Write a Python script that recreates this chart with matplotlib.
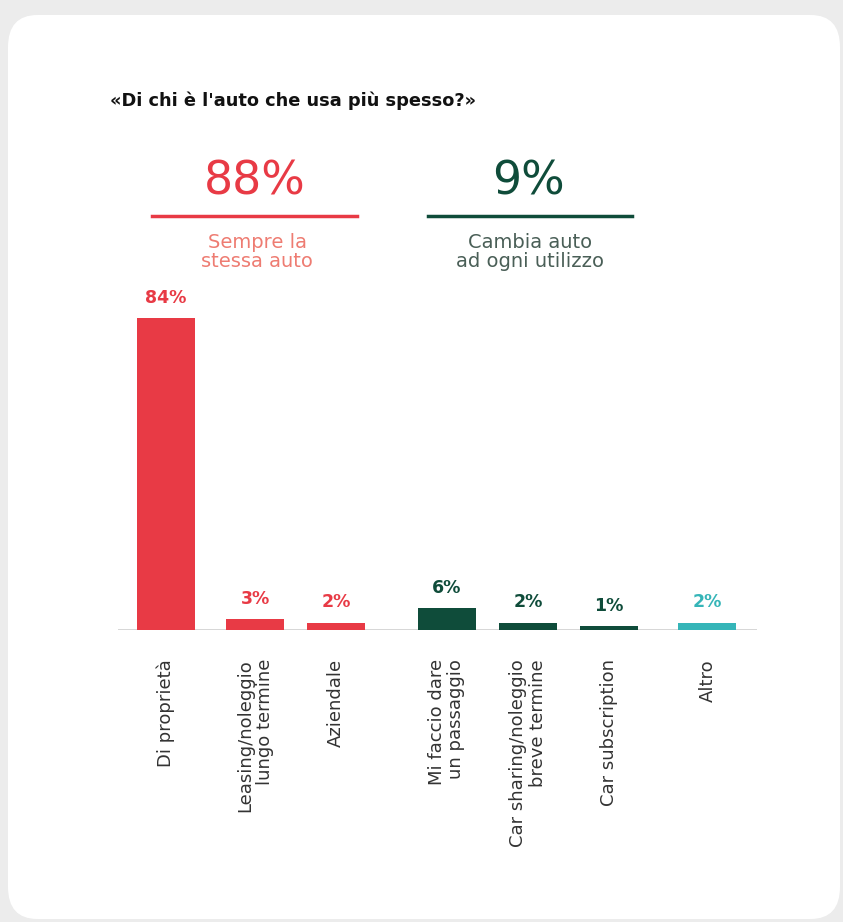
import matplotlib.pyplot as plt
from matplotlib.patches import FancyBboxPatch
from matplotlib.lines import Line2D

# ---------- data ----------
categories = ["Di proprietà", "Leasing/noleggio\nlungo termine", "Aziendale",
              "Mi faccio dare\nun passaggio", "Car sharing/noleggio\nbreve termine",
              "Car subscription", "Altro"]
values = [84, 3, 2, 6, 2, 1, 2]
groups = ["same", "same", "same", "change", "change", "change", "other"]

header_values = [88, 9]
header_labels = ["Sempre la\nstessa auto", "Cambia auto\nad ogni utilizzo"]
title = "«Di chi è l'auto che usa più spesso?»"

# ---------- layout / style ----------
W, H = 843, 922
RED = "#E83A45"
GREEN = "#0F4C3A"
TEAL = "#35B5B8"
colors = {"same": RED, "change": GREEN, "other": TEAL}
x_pos = [0, 1.05, 2.0, 3.3, 4.26, 5.21, 6.37]   # slot positions (1 unit ~ 85 px)

plt.rcParams["font.family"] = ["DejaVu Sans"]

fig = plt.figure(figsize=(W / 100, H / 100), dpi=100)
fig.patch.set_facecolor("#ececec")


def px(x, y):
    return x / W, 1 - y / H


# card with faint shadow
card_l, card_t, card_r, card_b = 8, 15, 840, 919
for off, col in [(4, "#e2e2e2"), (2, "#dcdcdc")]:
    fig.patches.append(FancyBboxPatch(
        (card_l - off / 2, 1 - (card_b + off / 2) / H), (card_r - card_l + off) / W,
        (card_b - card_t + off) / H, boxstyle="round,pad=0,rounding_size=0.035",
        transform=fig.transFigure, facecolor=col, edgecolor="none", zorder=0))
fig.patches.append(FancyBboxPatch(
    (card_l / W, 1 - card_b / H), (card_r - card_l) / W, (card_b - card_t) / H,
    boxstyle="round,pad=0,rounding_size=0.035", transform=fig.transFigure,
    facecolor="white", edgecolor="none", zorder=1))

# title
fig.text(*px(110, 101), title, fontsize=12.8, fontweight="bold", color="#111111",
         ha="left", va="center")

# headers
hdr_cx = [255, 528]
hdr_col = [RED, GREEN]
sub_col = ["#EE7C72", "#4A5F57"]
line_x = [(152, 357), (428, 632)]
for i in range(2):
    fig.text(*px(hdr_cx[i], 182), f"{header_values[i]}%", fontsize=33,
             color=hdr_col[i], ha="center", va="center")
    x0, x1 = line_x[i]
    fig.add_artist(Line2D([x0 / W, x1 / W], [1 - 216 / H] * 2, color=hdr_col[i],
                          lw=2.5, transform=fig.transFigure, zorder=3))
    fig.text(*px(hdr_cx[i] + 2, 252), header_labels[i], fontsize=14,
             color=sub_col[i], ha="center", va="center", linespacing=0.95)

# bars
ax_l, ax_r, base_y, top_y = 118, 757, 630, 300
ax = fig.add_axes([ax_l / W, 1 - base_y / H, (ax_r - ax_l) / W, (base_y - top_y) / H])
ax.set_zorder(5)
ax.patch.set_visible(False)
ppu = 3.714  # px per percentage point
ax.set_ylim(0, (base_y - top_y) / ppu)
unit = 85
ax.set_xlim((ax_l - 166) / unit, (ax_r - 166) / unit)

bar_cols = [colors[g] for g in groups]
ax.bar(x_pos, values, width=58 / unit, color=bar_cols, zorder=3)
ax.axhline(0, color="#d0d0d0", lw=1.2, zorder=2)

for x, v, c in zip(x_pos, values, bar_cols):
    ax.text(x, v + 3.0, f"{v}%", ha="center", va="bottom", fontsize=12.5,
            fontweight="bold", color=c)

for x, lab in zip(x_pos, categories):
    ax.text(x, -7.8, lab, rotation=90, ha="center", va="top", fontsize=13,
            color="#333333", multialignment="right", linespacing=1.1)

for s in ax.spines.values():
    s.set_visible(False)
ax.set_xticks([])
ax.set_yticks([])

fig.savefig("out.png", dpi=100, facecolor=fig.get_facecolor())
